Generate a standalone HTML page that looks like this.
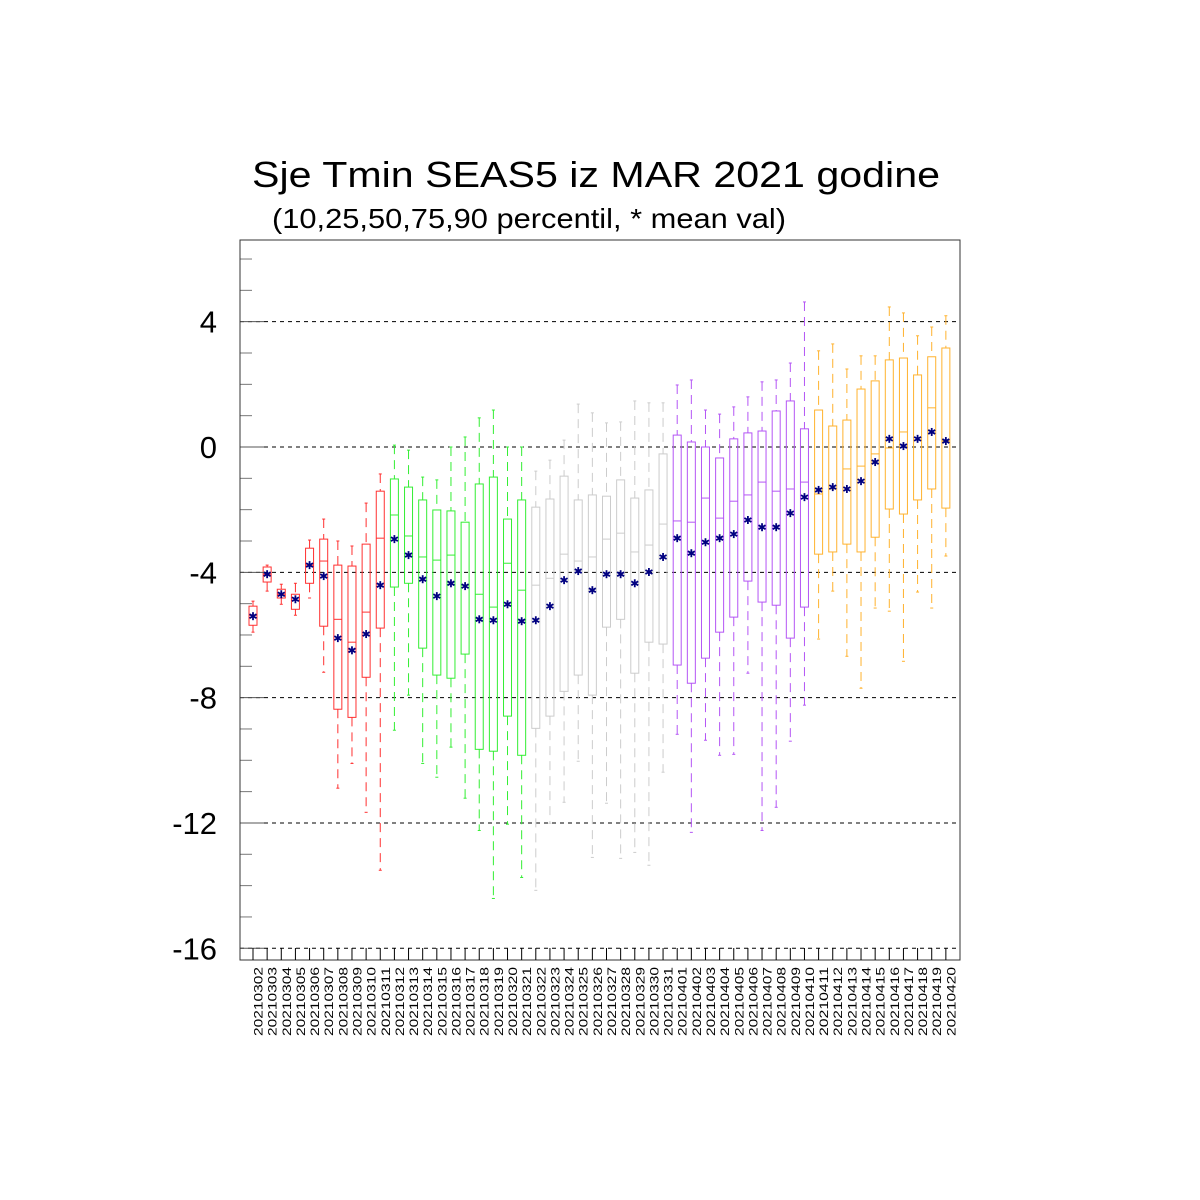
<!DOCTYPE html>
<html><head><meta charset="utf-8"><style>
html,body{margin:0;padding:0;background:#fff}
svg{display:block}
text{font-family:"Liberation Sans",sans-serif}
</style></head><body>
<svg id="chart" width="1200" height="1200" viewBox="0 0 1200 1200" xmlns="http://www.w3.org/2000/svg">
<rect width="1200" height="1200" fill="#fff"/>
<text x="596" y="187" font-size="36" text-anchor="middle" textLength="688" lengthAdjust="spacingAndGlyphs">Sje Tmin SEAS5 iz MAR 2021 godine</text>
<text x="272" y="228" font-size="28" textLength="514" lengthAdjust="spacingAndGlyphs">(10,25,50,75,90 percentil, * mean val)</text>
<g id="grid"></g><g id="marks"></g><g id="axes"></g>
</svg>
<script>
const categories=["20210302","20210303","20210304","20210305","20210306","20210307","20210308","20210309","20210310","20210311","20210312","20210313","20210314","20210315","20210316","20210317","20210318","20210319","20210320","20210321","20210322","20210323","20210324","20210325","20210326","20210327","20210328","20210329","20210330","20210331","20210401","20210402","20210403","20210404","20210405","20210406","20210407","20210408","20210409","20210410","20210411","20210412","20210413","20210414","20210415","20210416","20210417","20210418","20210419","20210420"];
const p90=[-4.92,-3.77,-4.38,-4.35,-2.97,-2.30,-3.00,-3.16,-1.79,-0.86,0.06,-0.10,-0.96,-1.05,0,0.32,0.93,1.18,0,0,-0.77,-0.42,0.22,1.37,1.09,0.77,0.80,1.47,1.41,1.41,1.98,2.14,1.18,1.05,1.28,1.60,2.08,2.14,2.68,4.63,3.07,3.29,2.49,2.91,2.91,4.47,4.28,3.55,3.83,4.19];
const p75=[-5.08,-3.83,-4.54,-4.70,-3.23,-2.94,-3.77,-3.80,-3.10,-1.41,-1.02,-1.28,-1.69,-2.01,-2.04,-2.40,-1.18,-0.96,-2.30,-1.69,-1.92,-1.66,-0.93,-1.69,-1.53,-1.57,-1.05,-1.63,-1.37,-0.22,0.38,0.16,0,-0.35,0.26,0.45,0.51,1.15,1.47,0.58,1.18,0.67,0.86,1.85,2.11,2.78,2.84,2.30,2.88,3.16];
const p50=[-5.37,-4.06,-4.70,-4.89,-3.77,-3.64,-5.50,-6.23,-5.27,-2.91,-2.17,-2.84,-3.51,-3.61,-3.45,-4.41,-4.70,-5.11,-3.71,-4.57,-4.41,-4.19,-3.42,-3.64,-3.51,-2.94,-2.75,-3.35,-3.13,-2.46,-2.36,-2.40,-1.63,-2.27,-1.73,-1.53,-1.12,-1.41,-1.34,-1.12,-1.50,-1.34,-0.70,-0.61,-0.22,-0.03,0.48,0.22,1.25,0.19];
const p25=[-5.69,-4.31,-4.82,-5.18,-4.35,-5.72,-8.37,-8.63,-7.35,-5.78,-4.47,-4.35,-6.42,-7.28,-7.38,-6.61,-9.65,-9.71,-8.59,-9.84,-8.98,-8.59,-7.80,-7.28,-7.92,-5.75,-5.50,-7.22,-6.23,-6.29,-6.96,-7.54,-6.74,-5.91,-5.43,-4.28,-4.95,-5.05,-6.10,-5.11,-3.42,-3.35,-3.10,-3.35,-2.88,-1.98,-2.14,-1.69,-1.34,-1.95];
const p10=[-5.91,-4.60,-5.02,-5.37,-4.82,-7.19,-10.89,-10.10,-11.66,-13.51,-9.04,-7.92,-10.10,-10.54,-9.58,-11.21,-12.24,-14.41,-12.04,-13.74,-14.15,-12.01,-11.34,-10.03,-13.10,-11.37,-13.13,-12.94,-13.35,-10.38,-9.17,-12.30,-9.36,-9.84,-9.81,-7.22,-12.24,-11.50,-9.39,-8.24,-6.13,-4.60,-6.68,-7.70,-5.14,-5.24,-6.84,-4.63,-5.14,-3.48];
const means=[-5.40,-4.06,-4.70,-4.86,-3.77,-4.12,-6.10,-6.49,-5.97,-4.41,-2.94,-3.45,-4.22,-4.76,-4.35,-4.44,-5.50,-5.53,-5.02,-5.56,-5.53,-5.08,-4.25,-3.96,-4.57,-4.06,-4.06,-4.35,-3.99,-3.51,-2.91,-3.39,-3.04,-2.91,-2.78,-2.33,-2.56,-2.56,-2.11,-1.60,-1.37,-1.28,-1.34,-1.09,-0.48,0.26,0.03,0.26,0.48,0.19];
const yTicks=[4,0,-4,-8,-12,-16];
const yTickLabels=["4","0","-4","-8","-12","-16"];

const NS="http://www.w3.org/2000/svg";
const L=240,R=960,T=240,B=960;
function yS(v){return 447-v*31.33;}
function xS(i){return 253+i*14.14;}
function mk(tag,attrs,parent){const e=document.createElementNS(NS,tag);for(const k in attrs)e.setAttribute(k,attrs[k]);parent.appendChild(e);return e;}
function colorFor(i){if(i<10)return"#ff3030";if(i<20)return"#33ee33";if(i<30)return"#cccccc";if(i<40)return"#b455f5";return"#ffb22e";}
const grid=document.getElementById('grid'),marks=document.getElementById('marks'),axes=document.getElementById('axes');

yTicks.forEach((v,k)=>{
  const g=mk('line',{x1:L,x2:R,y1:yS(v),y2:yS(v),stroke:'#000','stroke-width':1,'stroke-dasharray':'4,4'},grid);
  
  
  const t=mk('text',{x:217,y:yS(v)+11,'font-size':31,'text-anchor':'end'},axes);
  t.textContent=yTickLabels[k];
  
  
  const tk=mk('line',{x1:L,x2:L+24,y1:yS(v),y2:yS(v),stroke:'#555','stroke-width':1},axes);
  
  
});
for(let v=6;v>=-16;v--){if(v%4===0)continue;
  const tk=mk('line',{x1:L,x2:L+12,y1:yS(v),y2:yS(v),stroke:'#777','stroke-width':1},axes);
  
  
}
const frame=mk('rect',{x:L,y:T,width:R-L,height:B-T,fill:'none',stroke:'#333','stroke-width':1},axes);



categories.forEach((c,i)=>{
  const x=xS(i),col=colorFor(i),g=mk('g',{},marks);
  
  
  const hw=4;
  mk('line',{x1:x,x2:x,y1:yS(p90[i]),y2:yS(p75[i]),stroke:col,'stroke-width':1,'stroke-dasharray':'9,6'},g);
  mk('line',{x1:x,x2:x,y1:yS(p25[i]),y2:yS(p10[i]),stroke:col,'stroke-width':1,'stroke-dasharray':'9,6'},g);
  mk('line',{x1:x-1.5,x2:x+1.5,y1:yS(p90[i]),y2:yS(p90[i]),stroke:col,'stroke-width':1},g);
  mk('line',{x1:x-1.5,x2:x+1.5,y1:yS(p10[i]),y2:yS(p10[i]),stroke:col,'stroke-width':1},g);
  mk('rect',{x:x-hw,y:yS(p75[i]),width:hw*2,height:yS(p25[i])-yS(p75[i]),fill:'none',stroke:col,'stroke-width':1},g);
  mk('line',{x1:x-hw,x2:x+hw,y1:yS(p50[i]),y2:yS(p50[i]),stroke:col,'stroke-width':1},g);
  const my=yS(means[i]),s=4;
  const m=mk('g',{stroke:'#000080','stroke-width':1.8},marks);
  
  
  mk('line',{x1:x,x2:x,y1:my-s,y2:my+s},m);
  mk('line',{x1:x-s*0.87,x2:x+s*0.87,y1:my-s*0.5,y2:my+s*0.5},m);
  mk('line',{x1:x-s*0.87,x2:x+s*0.87,y1:my+s*0.5,y2:my-s*0.5},m);
  const tk=mk('line',{x1:x,x2:x,y1:948,y2:B,stroke:'#000','stroke-width':1},axes);
  
  
  const t=mk('text',{x:0,y:0,'font-size':12,'text-anchor':'end',textLength:69,lengthAdjust:'spacingAndGlyphs',transform:`translate(${x+9.5},967) rotate(-90)`},axes);
  t.textContent=c;
  
  
});
</script>
</body></html>
